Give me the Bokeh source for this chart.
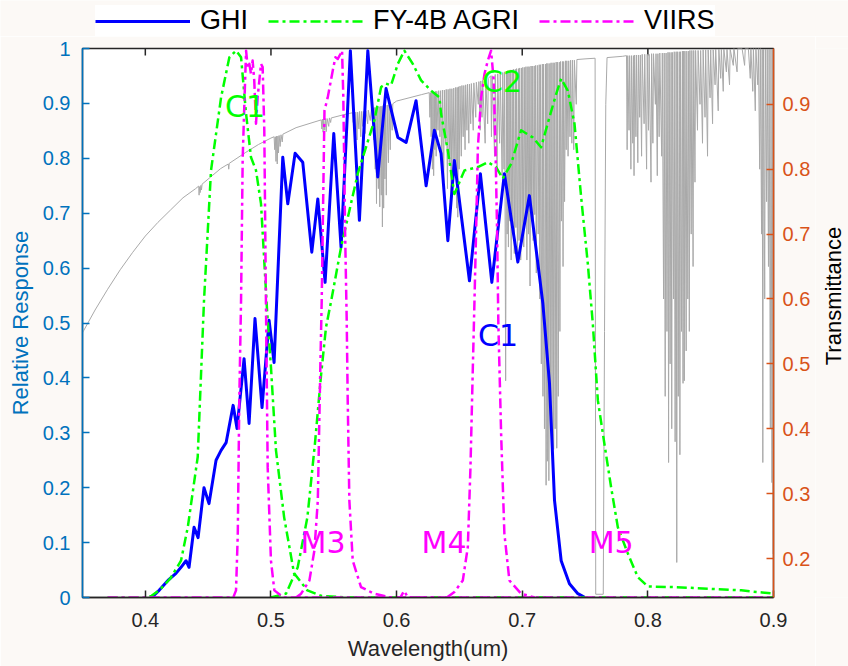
import math
from bokeh.plotting import figure
from bokeh.layouts import column, row
from bokeh.models import (Range1d, LinearAxis, FixedTicker, Legend, LegendItem,
                          ColumnDataSource)
from bokeh.core.properties import value
from bokeh.embed import file_html
from bokeh.resources import INLINE

# ---------------- data ----------------
x_ticks = [0.4, 0.5, 0.6, 0.7, 0.8, 0.9]
y_ticks = [0.0, 0.1, 0.2, 0.3, 0.4, 0.5, 0.6, 0.7, 0.8, 0.9, 1.0]
y_tick_labels = ["0", "0.1", "0.2", "0.3", "0.4", "0.5", "0.6", "0.7", "0.8", "0.9", "1"]
t_ticks = [0.2, 0.3, 0.4, 0.5, 0.6, 0.7, 0.8, 0.9]

ghi_wl = [0.405, 0.411, 0.418, 0.4244, 0.4284, 0.4324, 0.4348, 0.4388, 0.442, 0.4467,
          0.4507, 0.4563, 0.4603, 0.4643, 0.4699, 0.473, 0.4786, 0.4826, 0.4873, 0.4929,
          0.4985, 0.5025, 0.5094, 0.5134, 0.5192, 0.5253, 0.5325, 0.5373, 0.5431, 0.5500,
          0.5558, 0.5632, 0.5704, 0.5771, 0.5850, 0.5916, 0.6010, 0.6076, 0.6155, 0.6235,
          0.6301, 0.6354, 0.6408, 0.6460, 0.6580, 0.6667, 0.6758, 0.6858, 0.6965, 0.7057,
          0.7164, 0.7217, 0.7257, 0.7310, 0.7376, 0.7443, 0.7500]
ghi_resp = [0.000, 0.013, 0.031, 0.044, 0.055, 0.067, 0.055, 0.128, 0.109, 0.200,
            0.171, 0.250, 0.268, 0.282, 0.350, 0.308, 0.435, 0.317, 0.508, 0.346,
            0.505, 0.428, 0.802, 0.717, 0.809, 0.793, 0.629, 0.726, 0.574, 0.845,
            0.638, 0.996, 0.687, 0.996, 0.766, 0.927, 0.838, 0.829, 0.905, 0.750,
            0.851, 0.809, 0.650, 0.796, 0.577, 0.772, 0.574, 0.772, 0.611, 0.732,
            0.536, 0.390, 0.177, 0.067, 0.025, 0.007, 0.000]

agri_c1_wl = [0.370, 0.400, 0.405, 0.412, 0.420, 0.4284, 0.4338, 0.4417, 0.4467, 0.4523,
              0.4603, 0.4669, 0.4722, 0.4762, 0.4802, 0.4841, 0.4881, 0.4921, 0.4969, 0.5000,
              0.5040, 0.5105, 0.5184, 0.5290, 0.5400, 0.5600, 0.9000]
agri_c1_resp = [0.000, 0.000, 0.003, 0.015, 0.035, 0.067, 0.128, 0.256, 0.540, 0.778,
                0.911, 0.984, 0.996, 0.984, 0.881, 0.802, 0.778, 0.717, 0.523, 0.420,
                0.268, 0.146, 0.044, 0.013, 0.003, 0.000, 0.000]

agri_c2_wl = [0.500, 0.512, 0.5213, 0.529, 0.535, 0.540, 0.5438, 0.548, 0.5558, 0.5691,
              0.5823, 0.5877, 0.5916, 0.5956, 0.6010, 0.6062, 0.6129, 0.6195, 0.6275, 0.6341,
              0.6354, 0.6408, 0.6460, 0.6540, 0.6647, 0.6726, 0.6792, 0.6845, 0.6912, 0.6991,
              0.7084, 0.7150, 0.7217, 0.7270, 0.7310, 0.7363, 0.7416, 0.7469, 0.7522, 0.7562,
              0.7602, 0.7654, 0.7708, 0.7761, 0.7841, 0.7920, 0.8000, 0.8212, 0.8478, 0.8743,
              0.9000]
agri_c2_resp = [0.000, 0.007, 0.055, 0.146, 0.280, 0.408, 0.492, 0.541, 0.638, 0.772,
                0.869, 0.930, 0.936, 0.933, 0.972, 0.996, 0.972, 0.942, 0.923, 0.911,
                0.881, 0.814, 0.735, 0.778, 0.784, 0.793, 0.784, 0.763, 0.790, 0.851,
                0.838, 0.820, 0.875, 0.917, 0.945, 0.923, 0.863, 0.729, 0.608, 0.498,
                0.359, 0.280, 0.200, 0.128, 0.080, 0.037, 0.020, 0.019, 0.016, 0.013,
                0.007]

viirs_m3_wl = [0.370, 0.470, 0.4722, 0.4736, 0.4748, 0.4762, 0.4775, 0.4790, 0.4802, 0.4815,
               0.4828, 0.4841, 0.4854, 0.4867, 0.4881, 0.4894, 0.4921, 0.4934, 0.4947, 0.4960,
               0.4974, 0.5000, 0.5027, 0.5100, 0.9000]
viirs_m3_resp = [0.000, 0.000, 0.013, 0.116, 0.359, 0.541, 0.800, 0.911, 0.996, 0.966,
                 0.972, 0.954, 0.978, 0.942, 0.863, 0.911, 0.972, 0.966, 0.851, 0.541,
                 0.237, 0.067, 0.013, 0.000, 0.000]

viirs_m4_wl = [0.520, 0.5240, 0.5306, 0.5346, 0.5373, 0.5393, 0.5404, 0.5426, 0.5452, 0.5492,
               0.5513, 0.5532, 0.5553, 0.5566, 0.5576, 0.5590, 0.5603, 0.5611, 0.5624, 0.5651,
               0.5717, 0.5820, 0.5950, 0.6030, 0.6060, 0.6090, 0.6300]
viirs_m4_resp = [0.000, 0.007, 0.031, 0.086, 0.177, 0.420, 0.541, 0.887, 0.911, 0.960,
                 0.984, 0.981, 0.990, 0.996, 0.911, 0.668, 0.505, 0.359, 0.177, 0.067,
                 0.019, 0.007, 0.000, 0.000, 0.012, 0.000, 0.000]

viirs_m5_wl = [0.640, 0.6460, 0.6527, 0.6567, 0.6588, 0.6607, 0.6620, 0.6633, 0.6647, 0.6673,
               0.6700, 0.6726, 0.6752, 0.6773, 0.6787, 0.6800, 0.6810, 0.6832, 0.6858, 0.6898,
               0.6991, 0.7100]
viirs_m5_resp = [0.000, 0.010, 0.031, 0.092, 0.237, 0.420, 0.541, 0.668, 0.820, 0.911,
                 0.954, 0.978, 0.996, 0.942, 0.820, 0.668, 0.498, 0.298, 0.116, 0.031,
                 0.007, 0.000]

# atmospheric transmittance (right axis), envelope and absorption lines
trans_wl = [
    0.350, 0.360, 0.370, 0.380, 0.390, 0.400, 0.410, 0.420, 0.430, 0.440, 0.4425, 0.4428, 0.4432,
    0.4437, 0.4442, 0.4447, 0.4452, 0.460, 0.4660, 0.4664, 0.4668, 0.480, 0.490, 0.500, 0.5025,
    0.5030, 0.5035, 0.5040, 0.5045, 0.5050, 0.5055, 0.5060, 0.5065, 0.5073, 0.5080, 0.5090, 0.5095,
    0.520, 0.540, 0.5405, 0.5410, 0.5415, 0.5420, 0.5428, 0.5435, 0.5440, 0.5447, 0.5460, 0.5465,
    0.5475, 0.5480, 0.560, 0.5650, 0.5655, 0.5660, 0.5670, 0.5675, 0.5685, 0.5690, 0.5700, 0.5705,
    0.5715, 0.5720, 0.5730, 0.5735, 0.5750, 0.5755, 0.5770, 0.5775, 0.5790, 0.5800, 0.5815, 0.5820,
    0.5825, 0.5830, 0.5835, 0.5840, 0.5845, 0.5855, 0.5860, 0.5866, 0.5870, 0.5878, 0.5882, 0.5887,
    0.5892, 0.5897, 0.5902, 0.5907, 0.5912, 0.5918, 0.5925, 0.5935, 0.5940, 0.5950, 0.5955, 0.5965,
    0.5970, 0.600, 0.620, 0.6260, 0.6265, 0.6270, 0.6275, 0.6280, 0.6285, 0.6290, 0.6295, 0.6300,
    0.6305, 0.6310, 0.6315, 0.6320, 0.6330, 0.6335, 0.6345, 0.6350, 0.6360, 0.6365, 0.6375, 0.6380,
    0.6390, 0.6395, 0.6405, 0.6410, 0.6420, 0.6425, 0.6435, 0.6440, 0.6450, 0.6455, 0.6465, 0.6470,
    0.6478, 0.6482, 0.6487, 0.6492, 0.6498, 0.6505, 0.6515, 0.6520, 0.6530, 0.6535, 0.6545, 0.6550,
    0.6560, 0.6565, 0.6575, 0.6580, 0.6590, 0.6595, 0.6610, 0.6615, 0.6630, 0.6635, 0.6650, 0.6655,
    0.6665, 0.6670, 0.6680, 0.6685, 0.6705, 0.6710, 0.6725, 0.6730, 0.6750, 0.6755, 0.6760, 0.6780,
    0.6785, 0.6800, 0.6805, 0.6820, 0.6825, 0.6840, 0.6845, 0.6855, 0.6860, 0.6868, 0.6875, 0.6880,
    0.6885, 0.6890, 0.6895, 0.6900, 0.6905, 0.6912, 0.6920, 0.6925, 0.6930, 0.6937, 0.6945, 0.6950,
    0.6955, 0.6962, 0.6970, 0.6975, 0.6980, 0.6988, 0.6995, 0.7000, 0.7005, 0.7012, 0.7020, 0.7025,
    0.7030, 0.7037, 0.7045, 0.7050, 0.7055, 0.7062, 0.7070, 0.7075, 0.7080, 0.7087, 0.7095, 0.7100,
    0.7105, 0.7112, 0.7120, 0.7127, 0.7135, 0.7140, 0.7145, 0.7152, 0.7160, 0.7165, 0.7170, 0.7177,
    0.7185, 0.7190, 0.7195, 0.7200, 0.7205, 0.7212, 0.7220, 0.7225, 0.7230, 0.7237, 0.7245, 0.7250,
    0.7255, 0.7262, 0.7270, 0.7275, 0.7280, 0.7287, 0.7295, 0.7300, 0.7305, 0.7312, 0.7320, 0.7325,
    0.7330, 0.7337, 0.7345, 0.7350, 0.7355, 0.7365, 0.7370, 0.7380, 0.7385, 0.7395, 0.7400, 0.7410,
    0.7415, 0.7430, 0.7435, 0.750, 0.7580, 0.7585, 0.7645, 0.7655, 0.7665, 0.7675, 0.780, 0.7830,
    0.7835, 0.7840, 0.7850, 0.7855, 0.7865, 0.7870, 0.7880, 0.7885, 0.7890, 0.7895, 0.7905, 0.7910,
    0.7920, 0.7925, 0.7935, 0.7940, 0.7950, 0.7955, 0.7970, 0.7975, 0.7990, 0.7995, 0.8005, 0.8010,
    0.8025, 0.8030, 0.8040, 0.8045, 0.8060, 0.8065, 0.8075, 0.8080, 0.8090, 0.8095, 0.8110, 0.8115,
    0.8125, 0.8130, 0.8138, 0.8145, 0.8152, 0.8160, 0.8165, 0.8170, 0.8177, 0.8185, 0.8190, 0.8195,
    0.8205, 0.8210, 0.8217, 0.8225, 0.8230, 0.8235, 0.8242, 0.8250, 0.8255, 0.8260, 0.8268, 0.8275,
    0.8280, 0.8285, 0.8290, 0.8295, 0.8305, 0.8310, 0.8318, 0.8325, 0.8330, 0.8335, 0.8345, 0.8350,
    0.8360, 0.8365, 0.8375, 0.8380, 0.8395, 0.8400, 0.8415, 0.8420, 0.8435, 0.8440, 0.8455, 0.8460,
    0.8475, 0.8480, 0.8495, 0.8500, 0.8515, 0.8520, 0.8535, 0.8540, 0.8560, 0.8565, 0.8580, 0.8585,
    0.8600, 0.8605, 0.8625, 0.8630, 0.8650, 0.8655, 0.8680, 0.8685, 0.8710, 0.8715, 0.8750, 0.8770,
    0.8775, 0.8800, 0.8815, 0.8820, 0.8835, 0.8840, 0.8855, 0.8860, 0.8875, 0.8880, 0.8890, 0.8895,
    0.8905, 0.8910, 0.8915, 0.8920, 0.8930, 0.8935, 0.8945, 0.8950, 0.8960, 0.8965, 0.8975, 0.8980,
    0.8988, 0.8993, 0.8997, 0.9000]
trans_val = [
    0.548, 0.583, 0.615, 0.645, 0.672, 0.697, 0.718, 0.737, 0.756, 0.770, 0.774, 0.760, 0.773,
    0.764, 0.775, 0.768, 0.777, 0.801, 0.808, 0.800, 0.809, 0.826, 0.838, 0.848, 0.850,
    0.830, 0.850, 0.812, 0.851, 0.808, 0.851, 0.825, 0.852, 0.835, 0.853, 0.842, 0.854,
    0.864, 0.876, 0.862, 0.877, 0.857, 0.877, 0.860, 0.878, 0.858, 0.878, 0.866, 0.879,
    0.872, 0.879, 0.885, 0.887, 0.872, 0.887, 0.855, 0.888, 0.845, 0.888, 0.862, 0.889,
    0.850, 0.889, 0.866, 0.889, 0.855, 0.890, 0.870, 0.891, 0.875, 0.893, 0.894, 0.845,
    0.895, 0.800, 0.895, 0.747, 0.896, 0.770, 0.896, 0.742, 0.897, 0.760, 0.897, 0.711,
    0.898, 0.740, 0.898, 0.785, 0.898, 0.760, 0.899, 0.810, 0.899, 0.830, 0.900, 0.860,
    0.901, 0.905, 0.915, 0.918, 0.880, 0.918, 0.850, 0.918, 0.800, 0.919, 0.790, 0.919,
    0.830, 0.920, 0.820, 0.920, 0.860, 0.921, 0.850, 0.921, 0.800, 0.922, 0.780, 0.922,
    0.840, 0.923, 0.770, 0.923, 0.810, 0.924, 0.760, 0.924, 0.800, 0.925, 0.790, 0.926,
    0.740, 0.926, 0.726, 0.927, 0.800, 0.928, 0.820, 0.929, 0.850, 0.929, 0.830, 0.930,
    0.860, 0.931, 0.840, 0.931, 0.870, 0.932, 0.860, 0.933, 0.880, 0.934, 0.900, 0.935,
    0.860, 0.936, 0.880, 0.937, 0.840, 0.939, 0.870, 0.940, 0.944, 0.850, 0.944, 0.820,
    0.946, 0.800, 0.947, 0.840, 0.948, 0.790, 0.949, 0.800, 0.950, 0.474, 0.951, 0.700,
    0.952, 0.680, 0.952, 0.720, 0.953, 0.660, 0.953, 0.700, 0.954, 0.670, 0.954, 0.710,
    0.955, 0.655, 0.955, 0.690, 0.956, 0.660, 0.956, 0.700, 0.957, 0.680, 0.957, 0.720,
    0.958, 0.660, 0.958, 0.700, 0.958, 0.620, 0.959, 0.720, 0.959, 0.690, 0.959, 0.730,
    0.960, 0.640, 0.960, 0.700, 0.961, 0.600, 0.961, 0.500, 0.962, 0.450, 0.962, 0.400,
    0.962, 0.313, 0.963, 0.350, 0.963, 0.320, 0.963, 0.420, 0.964, 0.380, 0.964, 0.368,
    0.964, 0.400, 0.965, 0.370, 0.965, 0.450, 0.965, 0.550, 0.966, 0.720, 0.966, 0.650,
    0.966, 0.750, 0.967, 0.830, 0.967, 0.820, 0.967, 0.850, 0.968, 0.840, 0.968, 0.830,
    0.968, 0.900, 0.969, 0.970, 0.971, 0.145, 0.145, 0.550, 0.900, 0.972, 0.974, 0.975,
    0.830, 0.975, 0.860, 0.975, 0.800, 0.975, 0.840, 0.975, 0.790, 0.976, 0.850, 0.976,
    0.810, 0.976, 0.880, 0.976, 0.820, 0.977, 0.870, 0.977, 0.800, 0.977, 0.860, 0.977,
    0.780, 0.978, 0.840, 0.978, 0.900, 0.978, 0.790, 0.978, 0.850, 0.979, 0.820, 0.979,
    0.600, 0.979, 0.450, 0.979, 0.550, 0.980, 0.348, 0.980, 0.500, 0.980, 0.400, 0.980,
    0.600, 0.981, 0.380, 0.981, 0.194, 0.981, 0.450, 0.981, 0.360, 0.981, 0.550, 0.982,
    0.470, 0.982, 0.474, 0.982, 0.520, 0.982, 0.600, 0.982, 0.550, 0.983, 0.700, 0.983,
    0.650, 0.983, 0.780, 0.983, 0.860, 0.983, 0.900, 0.983, 0.840, 0.984, 0.880, 0.984,
    0.820, 0.984, 0.910, 0.984, 0.870, 0.984, 0.930, 0.985, 0.890, 0.985, 0.940, 0.985,
    0.920, 0.985, 0.950, 0.985, 0.930, 0.985, 0.960, 0.986, 0.950, 0.986, 0.986, 0.960,
    0.986, 0.986, 0.940, 0.986, 0.920, 0.986, 0.890, 0.986, 0.930, 0.986, 0.800, 0.986,
    0.700, 0.985, 0.348, 0.985, 0.600, 0.985, 0.750, 0.985, 0.650, 0.985, 0.400, 0.985,
    0.317, 0.985, 0.207, 0.940]

label_x = [0.4794, 0.6840, 0.6808, 0.5415, 0.6378, 0.7708]
label_y = [0.894, 0.940, 0.477, 0.100, 0.100, 0.100]
label_text = ["C1", "C2", "C1", "M3", "M4", "M5"]
label_color = ["#00FF00", "#00FF00", "#0000FF", "#FF00FF", "#FF00FF", "#FF00FF"]

series_names = ["GHI", "FY-4B AGRI", "VIIRS"]

# ---------------- styling constants ----------------
BLUE_AX = "#0072BD"
ORANGE_AX = "#D95319"
DARK = "#262626"
PAGE = "#FCF9F6"
FONT = "Liberation Sans"
DASH = "10 4 3 4"
GHI_STYLE = dict(line_color="#0000FF", line_width=3, line_join="round")
AGRI_STYLE = dict(line_color="#00FF00", line_width=2.5, line_dash=DASH, line_join="round")
VIIRS_STYLE = dict(line_color="#FF00FF", line_width=2.5, line_dash=DASH, line_join="round")
NAN = float("nan")

# ---------------- main plot ----------------
p = figure(width=815, height=630, output_backend="svg", toolbar_location=None,
           x_range=Range1d(0.35, 0.9), y_range=Range1d(0.0, 1.0),
           x_axis_location=None, y_axis_location=None,
           min_border_left=82, min_border_right=42, min_border_top=12, min_border_bottom=69)
p.extra_y_ranges = {"T": Range1d(0.14, 0.986)}
p.background_fill_color = "white"
p.border_fill_color = PAGE
p.outline_line_color = DARK
p.outline_line_width = 1.5
p.grid.visible = False


def style_axis(ax, color, label_color):
    ax.axis_line_color = color
    ax.axis_line_width = 1.5
    ax.major_tick_line_color = color
    ax.major_tick_line_width = 1.5
    ax.major_tick_in = 7
    ax.major_tick_out = 0
    ax.minor_tick_in = 0
    ax.minor_tick_out = 0
    ax.major_label_text_font = FONT
    ax.major_label_text_font_size = "20px"
    ax.major_label_text_color = label_color
    ax.axis_label_text_font = FONT
    ax.axis_label_text_font_size = "22px"
    ax.axis_label_text_font_style = "normal"
    ax.axis_label_text_color = label_color


xb = LinearAxis(ticker=FixedTicker(ticks=x_ticks), axis_label="Wavelength(um)")
style_axis(xb, DARK, DARK)
xb.major_label_standoff = 15
xb.axis_label_standoff = 6
p.add_layout(xb, "below")

yl = LinearAxis(ticker=FixedTicker(ticks=y_ticks), axis_label="Relative Response",
                major_label_overrides=dict(zip(y_ticks, y_tick_labels)))
style_axis(yl, BLUE_AX, BLUE_AX)
yl.major_label_standoff = 12
yl.axis_label_standoff = 7
p.add_layout(yl, "left")

yr = LinearAxis(y_range_name="T", ticker=FixedTicker(ticks=t_ticks))
style_axis(yr, ORANGE_AX, ORANGE_AX)
yr.major_label_standoff = 9
p.add_layout(yr, "right")

# top tick marks (MATLAB box)
p.ray(x=x_ticks, y=[1.0] * len(x_ticks), length=7, length_units="screen",
      angle=-math.pi / 2, line_color=DARK, line_width=1.5)

# transmittance (grey, right axis)
p.line(trans_wl, trans_val, y_range_name="T", line_color="#A9A9A9", line_width=1)

p.line(ghi_wl, ghi_resp, **GHI_STYLE)
p.line(agri_c1_wl, agri_c1_resp, **AGRI_STYLE)
p.line(agri_c2_wl, agri_c2_resp, **AGRI_STYLE)
p.line(viirs_m3_wl, viirs_m3_resp, **VIIRS_STYLE)
p.line(viirs_m4_wl, viirs_m4_resp, **VIIRS_STYLE)
p.line(viirs_m5_wl, viirs_m5_resp, **VIIRS_STYLE)

lab_src = ColumnDataSource(dict(x=label_x, y=label_y, text=label_text, color=label_color))
p.text(x="x", y="y", text="text", text_color="color", source=lab_src,
       text_font=value("DejaVu Sans"), text_font_size=value("30px"),
       text_align="center", text_baseline="middle")

# ---------------- right-hand title strip ----------------
side = figure(width=33, height=630, output_backend="svg", toolbar_location=None,
              x_range=Range1d(0, 33), y_range=Range1d(0, 630),
              x_axis_location=None, y_axis_location=None, min_border=0)
side.background_fill_color = PAGE
side.border_fill_color = PAGE
side.outline_line_color = None
side.grid.visible = False
side.text(x=[18], y=[346], text=["Transmittance"], angle=math.pi / 2,
          text_font=value(FONT), text_font_size=value("22px"), text_color="#000000",
          text_align="center", text_baseline="middle")

# ---------------- legend strip ----------------
top = figure(width=848, height=36, output_backend="svg", toolbar_location=None,
             x_range=Range1d(0, 848), y_range=Range1d(0, 36),
             x_axis_location=None, y_axis_location=None, min_border=0)
top.background_fill_color = PAGE
top.border_fill_color = PAGE
top.outline_line_color = None
top.grid.visible = False
g1 = top.line(x=[NAN, NAN], y=[NAN, NAN], **GHI_STYLE)
g2 = top.line(x=[NAN, NAN], y=[NAN, NAN], **AGRI_STYLE)
g3 = top.line(x=[NAN, NAN], y=[NAN, NAN], **VIIRS_STYLE)
legend = Legend(items=[LegendItem(label=series_names[0], renderers=[g1]),
                       LegendItem(label=series_names[1], renderers=[g2]),
                       LegendItem(label=series_names[2], renderers=[g3])],
                location=(95, 0), orientation="horizontal",
                label_text_font=FONT, label_text_font_size="27px",
                label_text_color="#000000",
                glyph_width=95, glyph_height=30, label_height=30,
                label_standoff=10, spacing=20, padding=3, margin=0,
                border_line_color=None, background_fill_color="white",
                background_fill_alpha=1.0)
top.add_layout(legend, "center")

layout = column(top, row(p, side))
open("out.html", "w").write(file_html(layout, INLINE))
